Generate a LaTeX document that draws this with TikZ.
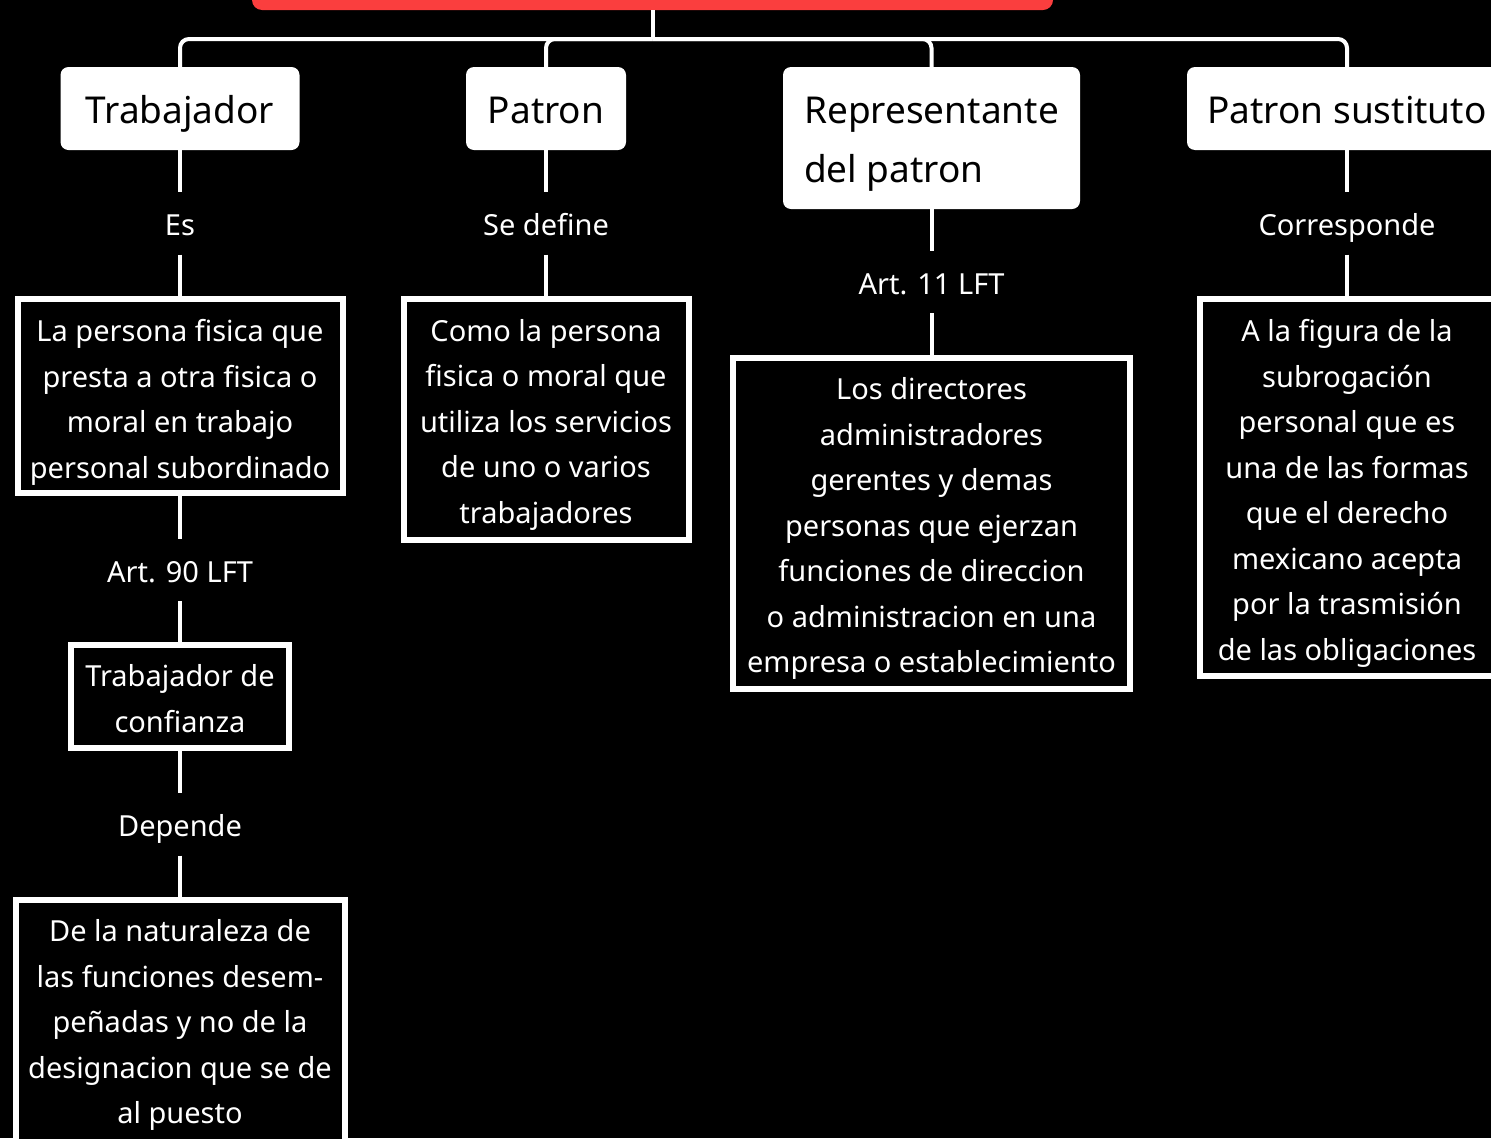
\documentclass[tikz,border=0pt]{standalone}
\usepackage{fontspec}
\setmainfont{Noto Sans}
\definecolor{titlered}{RGB}{250,62,62}
\newcommand{\upline}[1]{\vrule width 0pt height #1\relax}

\begin{document}
\begin{tikzpicture}[x=1pt,y=-1pt,
    link/.style={draw=white,line width=4pt,rounded corners=9pt},
    struts/.style={execute at begin node={\vrule width 0pt height #1},execute at end node=\strut},
    head/.style={fill=white,rounded corners=8pt,text=black,align=left,inner sep=0pt,struts=47.3pt,
                 font=\fontsize{37}{59}\selectfont},
    defbox/.style={draw=white,line width=6pt,fill=black,text=white,align=center,inner sep=0pt,
                   font=\fontsize{29}{45.5}\selectfont},
    tag/.style={text=white,inner sep=0pt,minimum height=62pt,struts=34.5pt,font=\fontsize{29}{35}\selectfont}]
    \useasboundingbox (0,0) rectangle (1491,1138);
    \fill[black] (0,0) rectangle (1491,1138);

    % titulo (cortado arriba)
    \node[fill=titlered,rounded corners=10pt,minimum width=801pt,minimum height=80pt] (root) at (652.5,-30) {};

    % cabeceras
    \node[head,minimum width=239pt,minimum height=83pt] (tr) at (180,108.5) {Trabajador};
    \node[head,minimum width=160pt,minimum height=83pt] (pa) at (546,108.5) {Patron};
    \node[head,minimum width=297pt,minimum height=142pt] (rp) at (931.5,138) {\upline{47.5pt}Representante\\del patron};
    \node[head,minimum width=320pt,minimum height=83pt] (ps) at (1347,108.5) {Patron sustituto};

    % columna 1
    \node[tag] (es) at (180,223.5) {Es};
    \node[defbox,minimum width=325pt,minimum height=194pt] (d1) at (180,396)
        {\upline{35pt}La persona fisica que\\presta a otra fisica o\\moral en trabajo\\personal subordinado};
    \node[tag] (art90) at (180,570) {Art. 90 LFT};
    \node[defbox,minimum width=218pt,minimum height=103pt] (tc) at (180,696.5) {\upline{26pt}Trabajador de\\confianza};
    \node[tag] (dep) at (180,824.5) {Depende};
    \node[defbox,minimum width=329pt,minimum height=244pt] (d5) at (180,1022)
        {\upline{28pt}De la naturaleza de\\las funciones desem-\\peñadas y no de la\\designacion que se de\\al puesto};

    % columna 2
    \node[tag] (sedef) at (546,223.5) {Se define};
    \node[defbox,minimum width=285pt,minimum height=241pt] (d2) at (546,419.5)
        {\upline{32pt}Como la persona\\fisica o moral que\\utiliza los servicios\\de uno o varios\\trabajadores};

    % columna 3
    \node[tag] (art11) at (931.5,282) {Art. 11 LFT};
    \node[defbox,minimum width=397pt,minimum height=331pt] (d3) at (931.5,523.5)
        {\upline{32pt}Los directores\\administradores\\gerentes y demas\\personas que ejerzan\\funciones de direccion\\o administracion en una\\empresa o establecimiento};

    % columna 4
    \node[tag] (corr) at (1347,223.5) {Corresponde};
    \node[defbox,minimum width=294pt,minimum height=377pt] (d4) at (1347,487.5)
        {\upline{34pt}A la figura de la\\subrogación\\personal que es\\una de las formas\\que el derecho\\mexicano acepta\\por la trasmisión\\de las obligaciones};

    % conectores
    \coordinate (hub) at (652.5,39);
    \draw[link] (root.south) -- (hub);
    \draw[link] (hub) -| (tr.north);
    \draw[link] (hub) -| (pa.north);
    \draw[link] (hub) -| (rp.north);
    \draw[link] (hub) -| (ps.north);

    \draw[link] (tr.south) -- (es.north);
    \draw[link] (es.south) -- (d1.north);
    \draw[link] (d1.south) -- (art90.north);
    \draw[link] (art90.south) -- (tc.north);
    \draw[link] (tc.south) -- (dep.north);
    \draw[link] (dep.south) -- (d5.north);

    \draw[link] (pa.south) -- (sedef.north);
    \draw[link] (sedef.south) -- (d2.north);

    \draw[link] (rp.south) -- (art11.north);
    \draw[link] (art11.south) -- (d3.north);

    \draw[link] (ps.south) -- (corr.north);
    \draw[link] (corr.south) -- (d4.north);
\end{tikzpicture}
\end{document}
